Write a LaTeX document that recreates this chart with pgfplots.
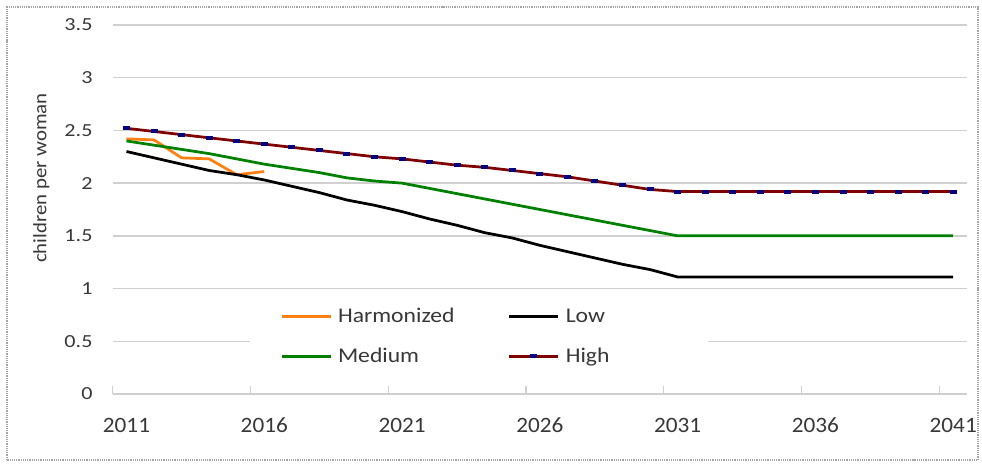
\documentclass[border=0pt]{standalone}
\usepackage{fontspec}
\setmainfont{Carlito}
\newfontfamily\xtf[FakeStretch=1.06]{Carlito}
\newfontfamily\ytf[FakeStretch=1.2]{Carlito}
\newfontfamily\lgf[FakeStretch=1.13]{Carlito}
\newfontfamily\ylf[FakeStretch=1.1]{Carlito}
\usepackage{pgfplots}
\pgfplotsset{compat=1.18}
\definecolor{harm}{RGB}{255,128,16}
\definecolor{med}{RGB}{0,128,0}
\definecolor{high}{RGB}{128,0,0}
\definecolor{hmark}{RGB}{0,0,128}
\definecolor{gridc}{RGB}{208,208,208}
\definecolor{txt}{RGB}{56,56,56}
\begin{document}
\begin{tikzpicture}[x=1bp,y=1bp]
\useasboundingbox (0,0) rectangle (982,464);
\draw[gray!70, densely dotted, line width=1.2bp] (7,4) rectangle (978,457);
\begin{axis}[
  at={(112.7bp,70bp)}, anchor=south west,
  scale only axis, width=854.3bp, height=369bp,
  xmin=2010.5, xmax=2041.5, ymin=0, ymax=3.5,
  axis lines*=left, axis line style={draw=none},
  ytick={0,0.5,1,1.5,2,2.5,3,3.5},
  yticklabels={0,0.5,1,1.5,2,2.5,3,3.5},
  ytick style={draw=none},
  ymajorgrids, grid style={gridc, line width=1.5bp},
  yticklabel style={font=\ytf\fontsize{18.5}{22}\selectfont, text=txt, anchor=east, inner sep=0pt, xshift=-20bp},
  xtick={2010.5,2015.5,2020.5,2025.5,2030.5,2035.5,2040.5},
  xticklabels={},
  tick align=inside, major tick length=8bp,
  xtick style={draw=gridc, line width=1.2bp},
  extra x ticks={2011,2016,2021,2026,2031,2036,2041},
  extra x tick labels={2011,2016,2021,2026,2031,2036,2041},
  extra x tick style={major tick length=0pt, grid=none,
     xticklabel style={font=\xtf\fontsize{22}{26}\selectfont, text=txt, anchor=base, inner sep=0pt, yshift=-39bp}},
  every axis y label/.style={at={(axis description cs:-0.0834,0.585)}, rotate=90, anchor=center},
  ylabel={children per woman},
  ylabel style={font=\ylf\fontsize{19}{22}\selectfont, text=txt},
  legend columns=2,
  legend cell align=left,
  legend style={at={(rel axis cs:0.1608,0.2656)}, anchor=north west, draw=none, fill=white,
     inner xsep=30bp, inner ysep=12bp, row sep=24bp,
     nodes={inner sep=0pt, text=txt},
     font=\lgf\fontsize{21}{24}\selectfont,
     /tikz/every odd column/.append style={column sep=6bp}},
  legend image code/.code={\draw[mark repeat=2,mark phase=2,#1] plot coordinates {(0bp,0bp) (24.5bp,0bp) (49bp,0bp)};},
  clip=false,
]
\addplot[harm, line width=2.75bp] coordinates {(2011,2.42)(2012,2.41)(2013,2.24)(2014,2.23)(2015,2.08)(2016,2.11)};
\addlegendentry{\makebox[170bp][l]{Harmonized}}
\addplot[black, line width=2.75bp] coordinates {(2011,2.30)(2012,2.24)(2013,2.18)(2014,2.12)(2015,2.08)(2016,2.03)(2017,1.97)(2018,1.91)(2019,1.84)(2020,1.79)(2021,1.73)(2022,1.66)(2023,1.60)(2024,1.53)(2025,1.48)(2026,1.41)(2027,1.35)(2028,1.29)(2029,1.23)(2030,1.18)(2031,1.11)(2032,1.11)(2033,1.11)(2034,1.11)(2035,1.11)(2036,1.11)(2037,1.11)(2038,1.11)(2039,1.11)(2040,1.11)(2041,1.11)};
\addlegendentry{\makebox[112bp][l]{Low}}
\addplot[med, line width=2.75bp] coordinates {(2011,2.40)(2012,2.36)(2013,2.32)(2014,2.28)(2015,2.23)(2016,2.18)(2017,2.14)(2018,2.10)(2019,2.05)(2020,2.02)(2021,2.00)(2022,1.95)(2023,1.90)(2024,1.85)(2025,1.80)(2026,1.75)(2027,1.70)(2028,1.65)(2029,1.60)(2030,1.55)(2031,1.50)(2032,1.50)(2033,1.50)(2034,1.50)(2035,1.50)(2036,1.50)(2037,1.50)(2038,1.50)(2039,1.50)(2040,1.50)(2041,1.50)};
\addlegendentry{\makebox[170bp][l]{Medium}}
\addplot[high, line width=2.75bp, mark=-, mark size=3.5bp, mark options={draw=hmark, line width=4bp, solid}] coordinates {(2011,2.52)(2012,2.49)(2013,2.46)(2014,2.43)(2015,2.40)(2016,2.37)(2017,2.34)(2018,2.31)(2019,2.28)(2020,2.25)(2021,2.23)(2022,2.20)(2023,2.17)(2024,2.15)(2025,2.12)(2026,2.09)(2027,2.06)(2028,2.02)(2029,1.98)(2030,1.94)(2031,1.92)(2032,1.92)(2033,1.92)(2034,1.92)(2035,1.92)(2036,1.92)(2037,1.92)(2038,1.92)(2039,1.92)(2040,1.92)(2041,1.92)};
\addlegendentry{\makebox[112bp][l]{High}}
\end{axis}
\end{tikzpicture}
\end{document}
